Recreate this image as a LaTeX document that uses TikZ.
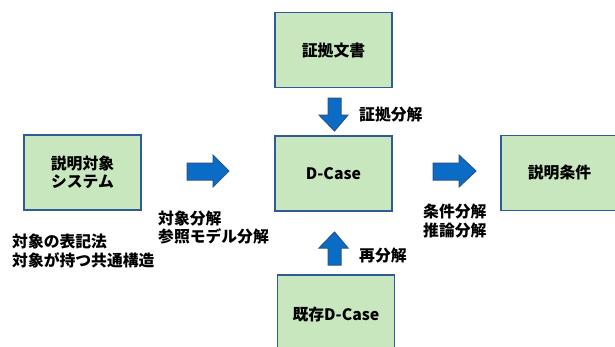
\documentclass[tikz,border=0pt]{standalone}
\usepackage{fontspec}
\setmainfont{Noto Sans CJK JP}
\definecolor{boxfill}{HTML}{C9E7BE}
\definecolor{boxline}{HTML}{2F5C96}
\definecolor{arrfill}{HTML}{0A6CC4}
\definecolor{arrline}{HTML}{24548F}
\tikzset{
  x=1pt, y=-1pt,
  box/.style={draw=boxline, line width=1.6pt, fill=boxfill, minimum width=117pt, minimum height=75pt, inner sep=0pt, align=center, font=\bfseries\fontsize{15.8}{18.5}\selectfont},
  lbl/.style={inner sep=0pt, align=left, font=\bfseries\fontsize{15.8}{18.5}\selectfont},
  blockarrow/.style={draw=arrline, line width=1pt, fill=arrfill, line join=miter}
}
\begin{document}
\begin{tikzpicture}
\useasboundingbox (0,0) rectangle (615,346);
\begin{scope}
\clip (0,0) rectangle (615,346);
\node[box] (sys) at (82.5,172.5) {説明対象\\システム};
\node[box] (doc) at (333.5,50) {証拠文書};
\node[box] (dcase) at (333.5,173.5) {D-Case};
\node[box, minimum height=80pt] (old) at (336,315) {既存D-Case};
\node[box] (cond) at (559.5,173) {説明条件};
\end{scope}
% block arrows
\draw[blockarrow] (187,163) -- (213,163) -- (213,155) -- (229,171) -- (213,187) -- (213,180) -- (187,180) -- cycle;
\draw[blockarrow] (433,163) -- (459,163) -- (459,155) -- (476,171) -- (459,187) -- (459,180) -- (433,180) -- cycle;
\draw[blockarrow] (328,98) -- (341,98) -- (341,115) -- (348,115) -- (334.5,131) -- (319,115) -- (328,115) -- cycle;
\draw[blockarrow] (328,265) -- (341,265) -- (341,248) -- (348,248) -- (334.5,232) -- (319,248) -- (328,248) -- cycle;
% labels
\node[lbl, anchor=west] (l1) at (359,115) {証拠分解};
\node[lbl, anchor=west] (l2) at (359,256) {再分解};
\node[lbl, anchor=west] (l3) at (158,227.5) {対象分解\\参照モデル分解};
\node[lbl, anchor=west] (l4) at (423,221) {条件分解\\推論分解};
\node[lbl, anchor=west] (l5) at (12,251) {対象の表記法\\対象が持つ共通構造};
\end{tikzpicture}
\end{document}
